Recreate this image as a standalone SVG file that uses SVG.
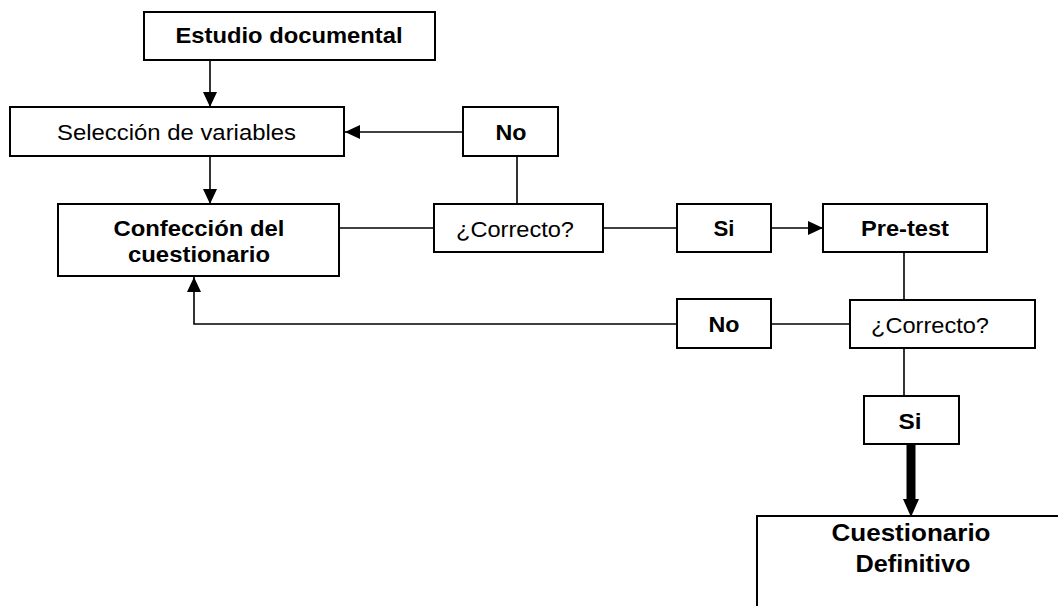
<svg xmlns="http://www.w3.org/2000/svg" width="1058" height="606" viewBox="0 0 1058 606">
  <style>
    .box { fill: #fff; stroke: #000; stroke-width: 2; }
    .lbl { font-family: "Liberation Sans", Arial, sans-serif; font-size: 22.5px; fill: #000; }
    .b { font-weight: bold; text-anchor: middle; }
    .r { font-weight: normal; }
    .link { fill: none; stroke: #000; stroke-width: 1.6; }
    .bold-link { fill: none; stroke: #000; stroke-width: 9; }
  </style>
  <defs>
    <marker id="arrow" markerUnits="userSpaceOnUse" markerWidth="16" markerHeight="14" refX="15" refY="7" orient="auto">
      <path d="M0,0 L15,7 L0,14 z" fill="#000"/>
    </marker>
    <marker id="arrow-bold" markerUnits="userSpaceOnUse" markerWidth="19" markerHeight="16" refX="0" refY="8" orient="auto">
      <path d="M0,0 L18,8 L0,16 z" fill="#000"/>
    </marker>
  </defs>

  <rect width="1058" height="606" fill="#fff"/>

  <!-- connectors -->
  <g id="connectors">
    <line class="link" x1="210" y1="60" x2="210" y2="107" marker-end="url(#arrow)"/>
    <line class="link" x1="210" y1="156" x2="210" y2="204" marker-end="url(#arrow)"/>
    <line class="link" x1="463" y1="132" x2="345" y2="132" marker-end="url(#arrow)"/>
    <line class="link" x1="517" y1="156" x2="517" y2="204"/>
    <line class="link" x1="339" y1="228" x2="434" y2="228"/>
    <line class="link" x1="603" y1="228" x2="677" y2="228"/>
    <line class="link" x1="771" y1="228" x2="823" y2="228" marker-end="url(#arrow)"/>
    <line class="link" x1="904" y1="252" x2="904" y2="300"/>
    <line class="link" x1="850" y1="324" x2="771" y2="324"/>
    <path class="link" d="M677,324 H194 V277" marker-end="url(#arrow)"/>
    <line class="link" x1="904" y1="348" x2="904" y2="396"/>
    <line class="bold-link" x1="911" y1="444" x2="911" y2="499" marker-end="url(#arrow-bold)"/>
  </g>

  <!-- nodes -->
  <g id="estudio">
    <rect class="box" x="144" y="12" width="291" height="48"/>
    <text class="lbl b" x="289" y="43" textLength="227" lengthAdjust="spacingAndGlyphs">Estudio documental</text>
  </g>
  <g id="seleccion">
    <rect class="box" x="10" y="107" width="334" height="49"/>
    <text class="lbl r" x="57" y="140" textLength="239" lengthAdjust="spacingAndGlyphs">Selección de variables</text>
  </g>
  <g id="no-1">
    <rect class="box" x="463" y="107" width="95" height="49"/>
    <text class="lbl b" x="511" y="140" textLength="31" lengthAdjust="spacingAndGlyphs">No</text>
  </g>
  <g id="confeccion">
    <rect class="box" x="58" y="204" width="281" height="72"/>
    <text class="lbl b" x="199" y="235.5" textLength="171" lengthAdjust="spacingAndGlyphs">Confección del</text>
    <text class="lbl b" x="199" y="262" textLength="142" lengthAdjust="spacingAndGlyphs">cuestionario</text>
  </g>
  <g id="correcto-1">
    <rect class="box" x="434" y="204" width="169" height="48"/>
    <text class="lbl r" x="456" y="237" textLength="118" lengthAdjust="spacingAndGlyphs">¿Correcto?</text>
  </g>
  <g id="si-1">
    <rect class="box" x="677" y="204" width="94" height="48"/>
    <text class="lbl b" x="724" y="235.5" textLength="21" lengthAdjust="spacingAndGlyphs">Si</text>
  </g>
  <g id="pretest">
    <rect class="box" x="823" y="204" width="164" height="48"/>
    <text class="lbl b" x="905" y="235.5" textLength="88" lengthAdjust="spacingAndGlyphs">Pre-test</text>
  </g>
  <g id="no-2">
    <rect class="box" x="677" y="299" width="94" height="49"/>
    <text class="lbl b" x="724" y="331.5" textLength="31" lengthAdjust="spacingAndGlyphs">No</text>
  </g>
  <g id="correcto-2">
    <rect class="box" x="850" y="300" width="185" height="48"/>
    <text class="lbl r" x="871" y="333" textLength="118" lengthAdjust="spacingAndGlyphs">¿Correcto?</text>
  </g>
  <g id="si-2">
    <rect class="box" x="864" y="396" width="95" height="48"/>
    <text class="lbl b" x="910" y="428.5" textLength="23" lengthAdjust="spacingAndGlyphs">Si</text>
  </g>
  <g id="definitivo">
    <rect class="box" x="757" y="516" width="330" height="120"/>
    <text class="lbl b" x="911" y="540.5" style="font-size:24px" textLength="159" lengthAdjust="spacingAndGlyphs">Cuestionario</text>
    <text class="lbl b" x="913" y="571.5" style="font-size:24px" textLength="115" lengthAdjust="spacingAndGlyphs">Definitivo</text>
  </g>
</svg>
